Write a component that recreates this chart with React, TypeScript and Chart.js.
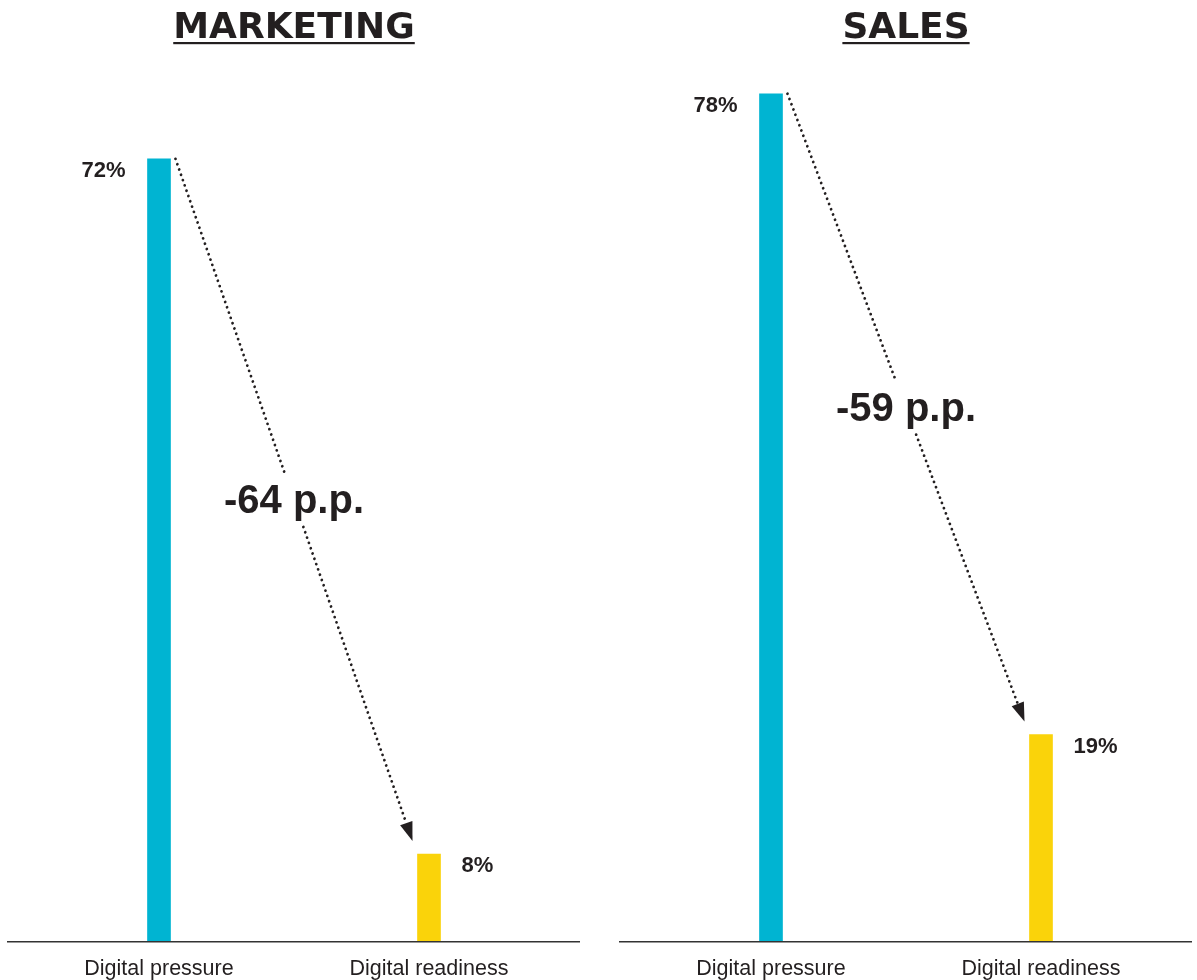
import React, { useEffect, useRef } from 'react';
import { Chart, registerables } from 'chart.js';

Chart.register(...registerables);

const categories = ['Digital pressure', 'Digital readiness'];
const panelTitles = ['MARKETING', 'SALES'];
const marketingValues = [72, 8];
const salesValues = [78, 19];
const panelValues = [marketingValues, salesValues];
const yMax = 80;

const barColors = ['#00b4d2', '#fad30a'];
const ink = '#231f20';

const overlayPlugin = {
  id: 'overlay',
  afterDraw(chart: any) {
    const title: string = chart.options.plugins.overlay.title;
    const ctx = chart.ctx as CanvasRenderingContext2D;
    const area = chart.chartArea;
    const meta = chart.getDatasetMeta(0);
    const b0 = meta.data[0] as any;
    const b1 = meta.data[1] as any;
    const values: number[] = chart.data.datasets[0].data;
    const cx = (area.left + area.right) / 2;

    ctx.save();

    // baseline
    ctx.strokeStyle = '#333333';
    ctx.lineWidth = 1.6;
    ctx.beginPath();
    ctx.moveTo(area.left - 17, area.bottom + 0.8);
    ctx.lineTo(area.right + 16, area.bottom + 0.8);
    ctx.stroke();

    // title with underline
    ctx.fillStyle = ink;
    ctx.font = 'bold 36px "DejaVu Sans"';
    ctx.textAlign = 'center';
    ctx.textBaseline = 'alphabetic';
    ctx.fillText(title, cx, 38);
    const tw = ctx.measureText(title).width;
    ctx.fillRect(cx - tw / 2, 42, tw, 2.2);

    // value labels
    ctx.font = 'bold 22px "Liberation Sans"';
    ctx.textAlign = 'right';
    ctx.fillText(values[0] + '%', b0.x - b0.width / 2 - 22, b0.y + 18);
    ctx.textAlign = 'left';
    ctx.fillText(values[1] + '%', b1.x + b1.width / 2 + 21, b1.y + 18);

    // arrow
    const sx = b0.x + b0.width / 2 + 5;
    const sy = b0.y;
    const tx = b1.x - b1.width / 2 - 5;
    const ty = b1.y - 13;
    const dx = tx - sx;
    const dy = ty - sy;
    const len = Math.hypot(dx, dy);
    const ux = dx / len;
    const uy = dy / len;
    const headLen = 19;
    const bx = tx - ux * headLen;
    const by = ty - uy * headLen;
    const mx = (sx + tx) / 2;
    const my = (sy + ty) / 2;
    const t1 = (my - 27 - sy) / dy;
    const t2 = (my + 27 - sy) / dy;

    ctx.strokeStyle = ink;
    ctx.lineWidth = 2.8;
    ctx.lineCap = 'round';
    ctx.setLineDash([0.01, 5.6]);
    ctx.beginPath();
    ctx.moveTo(sx, sy);
    ctx.lineTo(sx + dx * t1, sy + dy * t1);
    ctx.moveTo(sx + dx * t2, sy + dy * t2);
    ctx.lineTo(bx, by);
    ctx.stroke();
    ctx.setLineDash([]);

    const px = -uy;
    const py = ux;
    ctx.beginPath();
    ctx.moveTo(tx, ty);
    ctx.lineTo(bx + px * 6.5, by + py * 6.5);
    ctx.lineTo(bx - px * 6.5, by - py * 6.5);
    ctx.closePath();
    ctx.fill();

    // delta label
    const delta = values[1] - values[0];
    ctx.font = 'bold 40px "Liberation Sans"';
    ctx.textAlign = 'center';
    ctx.textBaseline = 'middle';
    ctx.fillText(`${delta} p.p.`, mx, my + 2);

    ctx.restore();
  },
};

function Panel({ index, left }: { index: number; left: number }) {
  const ref = useRef<HTMLCanvasElement>(null);
  useEffect(() => {
    if (!ref.current) return;
    const chart = new Chart(ref.current, {
      type: 'bar',
      data: {
        labels: categories,
        datasets: [
          {
            data: panelValues[index],
            backgroundColor: barColors,
            barThickness: 23,
          },
        ],
      },
      options: {
        animation: false,
        responsive: false,
        layout: { padding: { top: 72, left: 24, right: 21, bottom: 0 } },
        plugins: {
          legend: { display: false },
          tooltip: { enabled: false },
          title: { display: false },
          overlay: { title: panelTitles[index] },
        } as any,
        scales: {
          y: { display: false, min: 0, max: yMax },
          x: {
            offset: true,
            grid: { display: false },
            border: { display: false },
            ticks: {
              color: ink,
              padding: 7,
              font: { family: '"Liberation Sans"', size: 21.5 },
            },
            afterFit: (scale: any) => {
              scale.height = 39;
            },
          },
        },
      },
      plugins: [overlayPlugin],
    });
    return () => chart.destroy();
  }, [index]);
  return (
    <canvas
      ref={ref}
      width={585}
      height={980}
      style={{ position: 'absolute', left, top: 0, width: 585, height: 980 }}
    />
  );
}

export default function App() {
  return (
    <div
      style={{
        position: 'fixed',
        left: 0,
        top: 0,
        width: 1197,
        height: 980,
        background: '#ffffff',
        overflow: 'hidden',
      }}
    >
      <Panel index={0} left={0} />
      <Panel index={1} left={612} />
    </div>
  );
}
